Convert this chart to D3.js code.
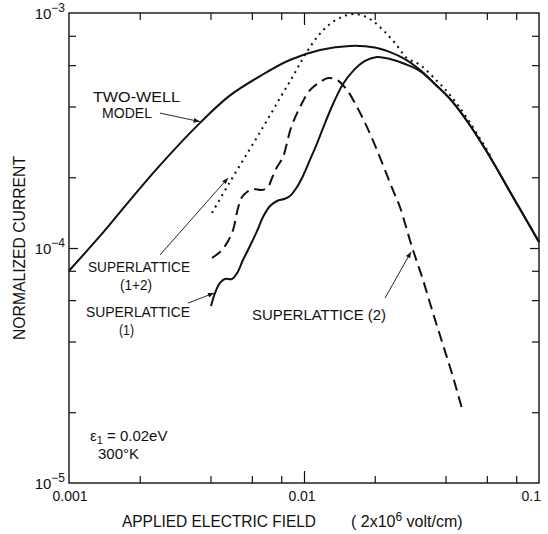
<!DOCTYPE html>
<html>
<head>
<meta charset="utf-8">
<script src="https://cdn.jsdelivr.net/npm/d3@7"></script>
<style>
  html, body { margin: 0; padding: 0; background: #fff; }
  svg { display: block; }
  text { font-family: "Liberation Sans", "DejaVu Sans", sans-serif; fill: #111; }
</style>
</head>
<body>
<svg id="chart" width="548" height="534"></svg>
<script>
// ---------------- DATA ----------------
const fieldMajorTicks = [0.001, 0.01, 0.1];
const fieldTickLabels = ["0.001", "0.01", "0.1"];
const fieldMinorTicks = [0.002, 0.004, 0.006, 0.008, 0.02, 0.04, 0.06, 0.08];
const currentMajorTicks = [1e-5, 1e-4, 1e-3];
const currentTickExponents = ["-5", "-4", "-3"];
const currentMinorTicks = [2e-5, 4e-5, 6e-5, 8e-5, 2e-4, 4e-4, 6e-4, 8e-4];

// Two-well model (solid)
const twoWellField   = [0.001, 0.00135, 0.0018, 0.0024, 0.0036, 0.0048, 0.0065, 0.0087, 0.0117, 0.0157, 0.020, 0.02323, 0.0269, 0.0312, 0.0368, 0.0418, 0.0494, 0.0601, 0.0775, 0.1];
const twoWellCurrent = [8.0e-5, 1.12e-4, 1.58e-4, 2.21e-4, 3.40e-4, 4.43e-4, 5.39e-4, 6.31e-4, 6.96e-4, 7.24e-4, 7.13e-4, 6.82e-4, 6.37e-4, 5.72e-4, 4.89e-4, 4.31e-4, 3.47e-4, 2.56e-4, 1.65e-4, 1.06e-4];

// Superlattice (1) (solid)
const sl1Field   = [0.00402, 0.00418, 0.00439, 0.00461, 0.00494, 0.00519, 0.0055, 0.00589, 0.00631, 0.00669, 0.00717, 0.00768, 0.00822, 0.00872, 0.00934, 0.0099, 0.0106, 0.01125, 0.01205, 0.01329, 0.01466, 0.01616, 0.01818, 0.02045, 0.02323, 0.0269, 0.0312, 0.0368, 0.0418, 0.0494, 0.0601, 0.0775, 0.1];
const sl1Current = [5.66e-5, 6.43e-5, 7.10e-5, 7.38e-5, 7.38e-5, 7.82e-5, 8.89e-5, 1.02e-4, 1.18e-4, 1.355e-4, 1.51e-4, 1.585e-4, 1.616e-4, 1.665e-4, 1.818e-4, 2.025e-4, 2.37e-4, 2.72e-4, 3.24e-4, 4.10e-4, 4.99e-4, 5.66e-4, 6.25e-4, 6.50e-4, 6.37e-4, 6.07e-4, 5.66e-4, 4.89e-4, 4.31e-4, 3.47e-4, 2.56e-4, 1.65e-4, 1.06e-4];

// Superlattice (1+2) (dashed)
const sl12Field   = [0.00406, 0.00439, 0.0047, 0.00499, 0.00524, 0.00545, 0.00572, 0.00607, 0.00663, 0.00703, 0.00731, 0.00768, 0.00814, 0.0088, 0.00962, 0.0106, 0.0117, 0.01265, 0.01382, 0.01524, 0.01681, 0.01854, 0.02045, 0.02255, 0.02439, 0.0256, 0.02882, 0.03209, 0.03539, 0.03904, 0.04305, 0.04749];
const sl12Current = [9.07e-5, 9.62e-5, 1.05e-4, 1.193e-4, 1.48e-4, 1.648e-4, 1.73e-4, 1.78e-4, 1.765e-4, 1.818e-4, 1.986e-4, 2.21e-4, 2.44e-4, 3.24e-4, 3.98e-4, 4.70e-4, 5.08e-4, 5.29e-4, 5.19e-4, 4.70e-4, 3.98e-4, 3.27e-4, 2.61e-4, 2.04e-4, 1.68e-4, 1.494e-4, 1.01e-4, 7.31e-5, 5.29e-5, 3.87e-5, 2.83e-5, 2.00e-5];

// Dotted curve
const dotField   = [0.00406, 0.00484, 0.00578, 0.00682, 0.00791, 0.00898, 0.0101, 0.01147, 0.0129, 0.01451, 0.01616, 0.018, 0.01986, 0.0219, 0.02439, 0.02743, 0.0312, 0.0368, 0.0418, 0.0494, 0.0619];
const dotCurrent = [1.41e-4, 1.91e-4, 2.56e-4, 3.37e-4, 4.35e-4, 5.39e-4, 6.63e-4, 7.98e-4, 8.98e-4, 9.62e-4, 9.90e-4, 9.71e-4, 9.16e-4, 8.38e-4, 7.45e-4, 6.43e-4, 6.01e-4, 5.14e-4, 4.48e-4, 3.57e-4, 2.49e-4];

// Annotation arrows: [tailField, tailCurrent, headField, headCurrent]
const arrowTwoWell = [0.00244, 3.75e-4, 0.0036, 3.45e-4];
const arrowSL12    = [0.00244, 9.34e-5, 0.00475, 1.986e-4];
const arrowSL1     = [0.00321, 5.83e-5, 0.00414, 6.43e-5];
const arrowSL2     = [0.02212, 6.12e-5, 0.02853, 9.62e-5];

// ---------------- LAYOUT ----------------
const plot = { left: 69, right: 539, top: 13, bottom: 483 };
const svg = d3.select("#chart");

const x = d3.scaleLog().domain([0.001, 0.1]).range([plot.left, plot.right]);
const y = d3.scaleLog().domain([1e-5, 1e-3]).range([plot.bottom, plot.top]);

const ink = "#111";

// Frame
svg.append("rect")
  .attr("x", plot.left).attr("y", plot.top)
  .attr("width", plot.right - plot.left).attr("height", plot.bottom - plot.top)
  .attr("fill", "none").attr("stroke", ink).attr("stroke-width", 1.4);

function styleAxis(g) {
  g.select(".domain").remove();
  g.selectAll(".tick line").attr("stroke", ink).attr("stroke-width", 1.2);
  g.selectAll(".tick text").remove();
}

// Inward ticks on all four sides
const minorLen = 7, majorLenX = 12, majorLenY = 9;
svg.append("g").attr("transform", `translate(0,${plot.bottom})`)
  .call(d3.axisBottom(x).tickValues(fieldMinorTicks).tickSize(-minorLen)).call(styleAxis);
svg.append("g").attr("transform", `translate(0,${plot.bottom})`)
  .call(d3.axisBottom(x).tickValues(fieldMajorTicks.slice(1, 2)).tickSize(-majorLenX)).call(styleAxis);
svg.append("g").attr("transform", `translate(0,${plot.top})`)
  .call(d3.axisTop(x).tickValues(fieldMinorTicks).tickSize(-minorLen)).call(styleAxis);
svg.append("g").attr("transform", `translate(0,${plot.top})`)
  .call(d3.axisTop(x).tickValues(fieldMajorTicks.slice(1, 2)).tickSize(-majorLenX)).call(styleAxis);
svg.append("g").attr("transform", `translate(${plot.left},0)`)
  .call(d3.axisLeft(y).tickValues(currentMinorTicks).tickSize(-minorLen)).call(styleAxis);
svg.append("g").attr("transform", `translate(${plot.left},0)`)
  .call(d3.axisLeft(y).tickValues(currentMajorTicks.slice(1, 2)).tickSize(-majorLenY)).call(styleAxis);
svg.append("g").attr("transform", `translate(${plot.right},0)`)
  .call(d3.axisRight(y).tickValues(currentMinorTicks).tickSize(-minorLen)).call(styleAxis);
svg.append("g").attr("transform", `translate(${plot.right},0)`)
  .call(d3.axisRight(y).tickValues(currentMajorTicks.slice(1, 2)).tickSize(-majorLenY)).call(styleAxis);

// X tick labels
fieldMajorTicks.forEach((v, i) => {
  const last = i === fieldMajorTicks.length - 1;
  svg.append("text")
    .attr("x", x(v) + (last ? 2 : (i === 0 ? 1 : -2)))
    .attr("y", plot.bottom + 18)
    .attr("text-anchor", last ? "end" : "middle")
    .attr("font-size", 14)
    .text(fieldTickLabels[i]);
});

// Y tick labels (10^n)
currentMajorTicks.forEach((v, i) => {
  const t = svg.append("text")
    .attr("x", plot.left - 4)
    .attr("y", y(v) + 6)
    .attr("text-anchor", "end")
    .attr("font-size", 15);
  t.append("tspan").text("10");
  t.append("tspan").attr("dy", -7).attr("font-size", 12).text(currentTickExponents[i].replace("-", "\u2212"));
});

// Axis titles
svg.append("text")
  .attr("transform", `translate(25,${(plot.top + plot.bottom) / 2}) rotate(-90)`)
  .attr("text-anchor", "middle")
  .attr("font-size", 16)
  .attr("textLength", 184).attr("lengthAdjust", "spacingAndGlyphs")
  .text("NORMALIZED CURRENT");

svg.append("text")
  .attr("x", 122).attr("y", 527)
  .attr("font-size", 16)
  .attr("textLength", 194).attr("lengthAdjust", "spacingAndGlyphs")
  .text("APPLIED ELECTRIC FIELD");

const unit = svg.append("text").attr("x", 351).attr("y", 527).attr("font-size", 16);
unit.append("tspan").text("( 2x10");
unit.append("tspan").attr("dy", -6).attr("font-size", 12).text("6");
unit.append("tspan").attr("dy", 6).text(" volt/cm)");

// Curves
const line = d3.line()
  .x(d => x(d[0])).y(d => y(d[1]))
  .curve(d3.curveCatmullRom.alpha(0.5));

const zip = (a, b) => a.map((v, i) => [v, b[i]]);
const g = svg.append("g");

g.append("path").datum(zip(twoWellField, twoWellCurrent))
  .attr("d", line).attr("fill", "none").attr("stroke", ink).attr("stroke-width", 2);
g.append("path").datum(zip(sl1Field, sl1Current))
  .attr("d", line).attr("fill", "none").attr("stroke", ink).attr("stroke-width", 2);
g.append("path").datum(zip(sl12Field, sl12Current))
  .attr("d", line).attr("fill", "none").attr("stroke", ink).attr("stroke-width", 2)
  .attr("stroke-dasharray", "11,6");
g.append("path").datum(zip(dotField, dotCurrent))
  .attr("d", line).attr("fill", "none").attr("stroke", ink).attr("stroke-width", 2)
  .attr("stroke-dasharray", "2,4.5");

// Arrow marker
svg.append("defs").append("marker")
  .attr("id", "ah").attr("viewBox", "0 0 10 10")
  .attr("refX", 10).attr("refY", 5)
  .attr("markerWidth", 9).attr("markerHeight", 6)
  .attr("markerUnits", "userSpaceOnUse")
  .attr("orient", "auto")
  .append("path").attr("d", "M0,1 L10,5 L0,9 Z").attr("fill", ink);

[arrowTwoWell, arrowSL12, arrowSL1, arrowSL2].forEach(a => {
  svg.append("line")
    .attr("x1", x(a[0])).attr("y1", y(a[1]))
    .attr("x2", x(a[2])).attr("y2", y(a[3]))
    .attr("stroke", ink).attr("stroke-width", 0.9)
    .attr("marker-end", "url(#ah)");
});

// Annotation labels
function label(txt, px, py, len, size) {
  return svg.append("text").attr("x", px).attr("y", py)
    .attr("font-size", size || 14)
    .attr("textLength", len).attr("lengthAdjust", "spacingAndGlyphs")
    .text(txt);
}
label("TWO-WELL", 93, 102, 87);
label("MODEL", 102, 118, 50);
label("SUPERLATTICE", 88, 272, 102);
label("(1+2)", 120, 290, 32);
label("SUPERLATTICE", 86, 317, 104);
label("(1)", 119, 335, 15);
label("SUPERLATTICE (2)", 252, 320, 134);

const eps = svg.append("text").attr("x", 90).attr("y", 441).attr("font-size", 15);
eps.append("tspan").text("\u03B5");
eps.append("tspan").attr("dy", 3).attr("font-size", 11).text("1");
eps.append("tspan").attr("dy", -3).text(" = 0.02eV");
svg.append("text").attr("x", 98).attr("y", 459).attr("font-size", 15).text("300\u00B0K");
</script>
</body>
</html>
